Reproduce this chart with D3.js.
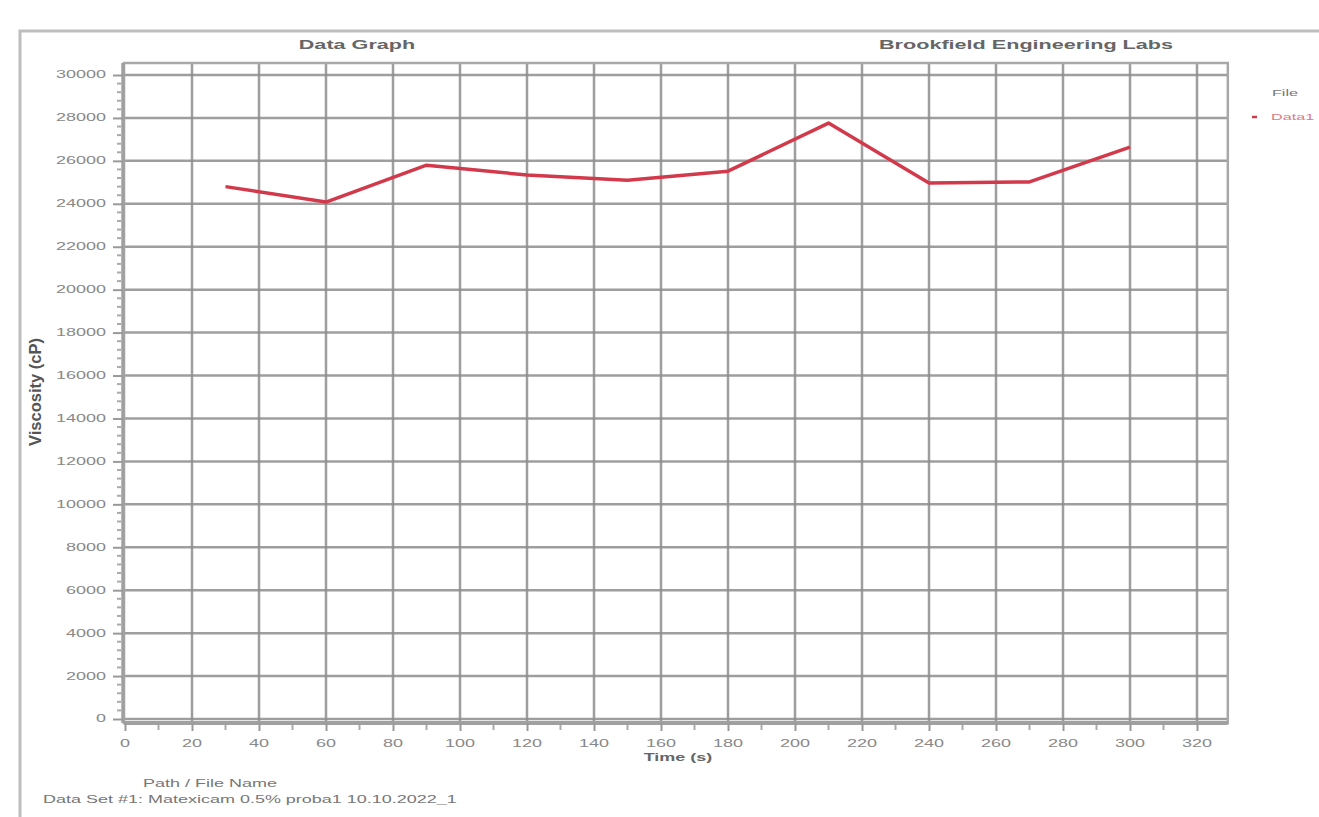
<!DOCTYPE html>
<html lang="en">
<head>
<meta charset="utf-8">
<title>Data Graph</title>
<script src="https://cdn.jsdelivr.net/npm/d3@7"></script>
<style>
  body { margin: 0; background: #fff; }
  text { font-family: "Liberation Sans", Arial, sans-serif; }
</style>
</head>
<body>
<script>

// data
var timeSec = [30, 60, 90, 120, 150, 180, 210, 240, 270, 300];
var viscosity = [24800, 24080, 25800, 25340, 25100, 25520, 27760, 24970, 25020, 26640];
var xTicks = [0, 20, 40, 60, 80, 100, 120, 140, 160, 180, 200, 220, 240, 260, 280, 300, 320];
var yTicks = [0, 2000, 4000, 6000, 8000, 10000, 12000, 14000, 16000, 18000, 20000, 22000, 24000, 26000, 28000, 30000];
var seriesNames = ["Data1"];

var W = 1319, H = 817;
var stretch = 1.8; // the source screenshot is widened sideways
var svg = d3.select("body").append("svg")
            .attr("width", W)
            .attr("height", H);

// widen glyphs sideways like the source, about the text's anchor point
function widen(sel) {
  sel.attr("transform", function() {
    var ax = +this.getAttribute("x") || 0;
    return "translate(" + ax + ",0) scale(" + stretch + ",1) translate(" + (-ax) + ",0)";
  });
}

var x = d3.scaleLinear().domain([0, 320]).range([125, 1197]);
var y = d3.scaleLinear().domain([0, 30000]).range([719, 75]);

var plotL = 124, plotR = x(329.2), plotT = 63, plotB = 723;

// outer frame
svg.append("path")
   .attr("d", "M1319,31 H20 V817")
   .attr("fill", "none")
   .attr("stroke", "#bdbdbd")
   .attr("stroke-width", 3);

// titles
svg.append("text").attr("x", 357).attr("y", 49)
   .attr("text-anchor", "middle").attr("font-size", 12).attr("font-weight", "bold")
   .attr("fill", "#666").text("Data Graph").call(widen);
svg.append("text").attr("x", 1026).attr("y", 49)
   .attr("text-anchor", "middle").attr("font-size", 12).attr("font-weight", "bold")
   .attr("fill", "#666").text("Brookfield Engineering Labs").call(widen);

// grid
var grid = svg.append("g");
grid.selectAll(".hg").data(yTicks).enter().append("line")
    .attr("x1", plotL).attr("x2", plotR)
    .attr("y1", function(d) { return y(d); })
    .attr("y2", function(d) { return y(d); })
    .attr("stroke", "#8d8d8d").attr("stroke-width", 2.5).attr("stroke-opacity", 0.85);
grid.selectAll(".vg").data(xTicks.slice(1)).enter().append("line")
    .attr("y1", plotT).attr("y2", plotB)
    .attr("x1", function(d) { return x(d); })
    .attr("x2", function(d) { return x(d); })
    .attr("stroke", "#8d8d8d").attr("stroke-width", 2.5).attr("stroke-opacity", 0.85);

// plot border
svg.append("rect")
   .attr("x", plotL).attr("y", plotT)
   .attr("width", plotR - plotL).attr("height", plotB - plotT)
   .attr("fill", "none").attr("stroke", "#a8a8a8").attr("stroke-width", 2.5);

// y axis (labels drawn separately so they can be widened)
var yAxis = d3.axisLeft(y).tickValues(yTicks).tickSize(10).tickFormat("");
var gy = svg.append("g").attr("transform", "translate(" + (plotL - 1) + ",0)").call(yAxis);
gy.select(".domain").attr("stroke", "#a0a0a0").attr("stroke-width", 3.5)
  .attr("d", "M0," + plotT + "V" + plotB);
gy.selectAll(".tick line").attr("stroke", "#999").attr("stroke-width", 2);

// right edge of the labels sits at x = 106; place them start-anchored
svg.append("g").selectAll("text").data(yTicks).enter().append("text")
   .attr("y", function(d) { return y(d) + 3.5; })
   .attr("font-size", 10).attr("fill", "#888")
   .text(function(d) { return d; })
   .attr("x", function() { return 106 - this.getComputedTextLength() * stretch; })
   .call(widen);

var yMinor = d3.range(0, 30400, 400).filter(function(d) { return d % 2000 !== 0; });
svg.append("g").selectAll("line").data(yMinor).enter().append("line")
   .attr("x1", plotL - 7).attr("x2", plotL - 3)
   .attr("y1", function(d) { return y(d); })
   .attr("y2", function(d) { return y(d); })
   .attr("stroke", "#aaa").attr("stroke-width", 2);

// x axis
var xAxis = d3.axisBottom(x).tickValues(xTicks).tickSize(8).tickFormat("");
var gx = svg.append("g").attr("transform", "translate(0," + plotB + ")").call(xAxis);
gx.select(".domain").attr("stroke", "#a0a0a0").attr("stroke-width", 4)
  .attr("d", "M" + plotL + ",0H" + plotR);
gx.selectAll(".tick line").attr("stroke", "#999").attr("stroke-width", 2);

svg.append("g").selectAll("text").data(xTicks).enter().append("text")
   .attr("x", function(d) { return x(d); })
   .attr("y", 747)
   .attr("text-anchor", "middle").attr("font-size", 10).attr("fill", "#888")
   .text(function(d) { return d; })
   .call(widen);

var xMinor = d3.range(10, 330, 20);
svg.append("g").selectAll("line").data(xMinor).enter().append("line")
   .attr("y1", plotB + 2).attr("y2", plotB + 7)
   .attr("x1", function(d) { return x(d); })
   .attr("x2", function(d) { return x(d); })
   .attr("stroke", "#aaa").attr("stroke-width", 2);

// axis titles
svg.append("text").attr("x", 678).attr("y", 761)
   .attr("text-anchor", "middle").attr("font-size", 10).attr("font-weight", "bold")
   .attr("fill", "#666").text("Time (s)").call(widen);
svg.append("text")
   .attr("transform", "translate(41,392) scale(1.5,1) rotate(-90)")
   .attr("text-anchor", "middle").attr("font-size", 11).attr("font-weight", "bold")
   .attr("textLength", 108).attr("lengthAdjust", "spacingAndGlyphs")
   .attr("fill", "#555").text("Viscosity (cP)");

// data line
var line = d3.line()
             .x(function(d, i) { return x(timeSec[i]); })
             .y(function(d) { return y(d); });
svg.append("path")
   .datum(viscosity)
   .attr("d", line)
   .attr("fill", "none")
   .attr("stroke", "#d23a4c")
   .attr("stroke-width", 3.5)
   .attr("stroke-linejoin", "round");

// legend
svg.append("text").attr("x", 1272).attr("y", 96)
   .attr("font-size", 9).attr("fill", "#777").text("File").call(widen);
var leg = svg.append("g").selectAll("g").data(seriesNames).enter().append("g")
   .attr("transform", function(d, i) { return "translate(1252," + (120 + i * 18) + ")"; });
leg.append("line").attr("x1", 0).attr("x2", 5).attr("y1", -3).attr("y2", -3)
   .attr("stroke", "#d23a4c").attr("stroke-width", 2.5);
leg.append("text").attr("x", 19).attr("y", 0)
   .attr("font-size", 9).attr("fill", "#e07a85").text(function(d) { return d; }).call(widen);

// footer
svg.append("text").attr("x", 210).attr("y", 787)
   .attr("text-anchor", "middle").attr("font-size", 10).attr("fill", "#777")
   .text("Path / File Name").call(widen);
svg.append("text").attr("x", 43).attr("y", 803)
   .attr("font-size", 10).attr("fill", "#777")
   .text("Data Set #1:  Matexicam 0.5% proba1 10.10.2022_1").call(widen);

</script>
</body>
</html>
